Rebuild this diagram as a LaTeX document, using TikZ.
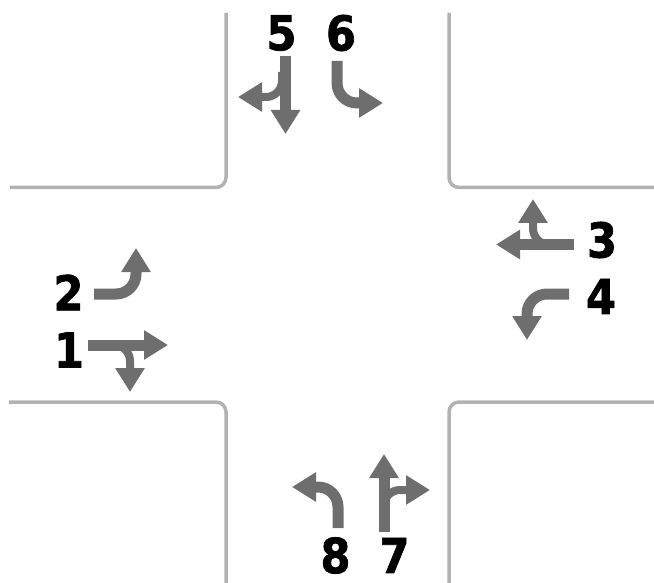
\documentclass[tikz,border=0pt]{standalone}
\usepackage{fontspec}
\setmainfont{DejaVu Sans}
\newfontfamily\numfont[BoldFeatures={FakeBold=1.6}]{DejaVu Sans}
\usepackage{xcolor}
\usetikzlibrary{arrows.meta}
\definecolor{kerbgray}{gray}{0.70}
\definecolor{arrowgray}{gray}{0.43}

\begin{document}
\begin{tikzpicture}[x=1pt, y=-1pt,
  num/.style={font=\numfont\fontsize{48}{48}\selectfont\bfseries, inner sep=0pt, text=black, xscale=0.9, transform shape},
  kerb/.style={draw=kerbgray, line width=3.5pt, rounded corners=10pt},
  arr/.style={draw=arrowgray, line width=11pt, -{Triangle[length=24pt, width=28pt]}, rounded corners=20pt},
  branch/.style={arr, line width=8pt, rounded corners=16pt}]
\useasboundingbox (0,0) rectangle (654,583);
% corners of the crossing
\draw[kerb] (10,187.5) -| (226,13);
\draw[kerb] (654,187.5) -| (449,13);
\draw[kerb] (9,402) -| (226,583);
\draw[kerb] (654,402) -| (449,583);
% numbers
\node[num] (n1) at (69,350) {1};
\node[num] (n2) at (68.5,292.5) {2};
\node[num] (n3) at (602,240) {3};
\node[num] (n4) at (601,296.5) {4};
\node[num] (n5) at (281.5,33) {5};
\node[num] (n6) at (341,33) {6};
\node[num] (n7) at (394.5,555.5) {7};
\node[num] (n8) at (335.5,555.5) {8};
% arrow ends
\coordinate (s1) at (88,345);
\coordinate (t1) at (168,345);
\coordinate (b1) at (110,345);
\coordinate (r1) at (130,392);
\coordinate (s2) at (94,294);
\coordinate (t2) at (136,248);
\coordinate (s3) at (574,244.5);
\coordinate (t3) at (496,244.5);
\coordinate (b3) at (556,244.5);
\coordinate (r3) at (533,199);
\coordinate (s4) at (569,294);
\coordinate (t4) at (527,340);
\coordinate (s5) at (285.5,56);
\coordinate (t5) at (285.5,134);
\coordinate (b5) at (282,72);
\coordinate (r5) at (238,97);
\coordinate (s6) at (337,61);
\coordinate (t6) at (383,103);
\coordinate (s7) at (384,532);
\coordinate (t7) at (384,454);
\coordinate (b7) at (384,514);
\coordinate (r7) at (430,490);
\coordinate (s8) at (338,528);
\coordinate (t8) at (292,487);
% arrows
\draw[arr] (s1) -- (t1);
\draw[branch] (b1) -| (r1);
\draw[arr] (s2) -| (t2);
\draw[arr] (s3) -- (t3);
\draw[branch] (b3) -| (r3);
\draw[arr] (s4) -| (t4);
\draw[arr] (s5) -- (t5);
\draw[branch] (b5) |- (r5);
\draw[arr] (s6) |- (t6);
\draw[arr] (s7) -- (t7);
\draw[branch] (b7) |- (r7);
\draw[arr] (s8) |- (t8);
\end{tikzpicture}
\end{document}
